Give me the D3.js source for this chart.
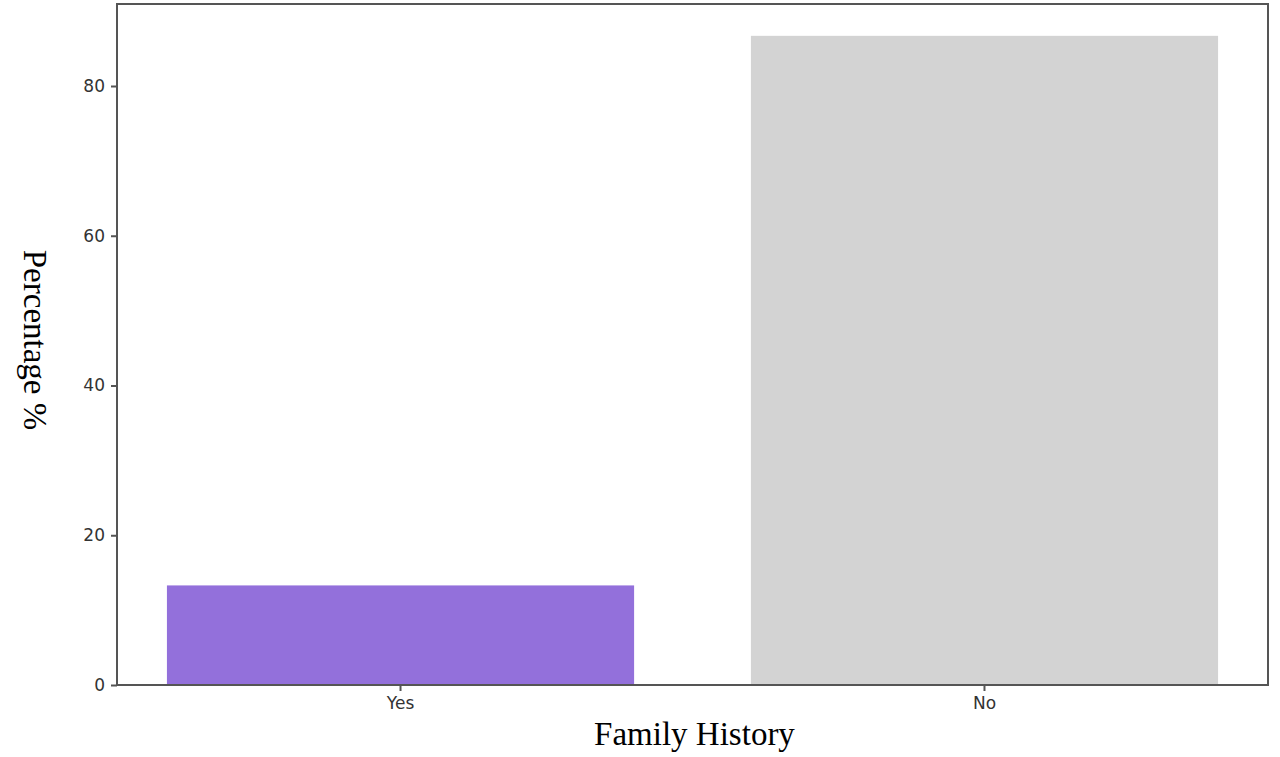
<!DOCTYPE html>
<html><head><meta charset="utf-8">
<script src="https://cdn.jsdelivr.net/npm/d3@7"></script>
<style>body{margin:0;background:#fff}</style></head>
<body><svg id="c" width="1280" height="757"></svg>
<script>
const categories = ["Yes", "No"];
const values = [13.3, 86.7];
const colors = ["#9370DB", "#D3D3D3"];
const yTicks = [0, 20, 40, 60, 80];

const svg = d3.select("#c");
const L = 117, R = 1268, T = 4, B = 685;
const y = d3.scaleLinear().domain([0, 80]).range([B, 86]);
const x = d3.scaleBand().domain(categories).range([L, R]).paddingInner(0.2).paddingOuter(0.0855);

svg.selectAll("rect.bar").data(categories).enter().append("rect")
  .attr("x", d => x(d)).attr("width", x.bandwidth())
  .attr("y", (d, i) => y(values[i])).attr("height", (d, i) => B - y(values[i]))
  .attr("fill", (d, i) => colors[i]);

const font = "DejaVu Sans, sans-serif";
const ya = svg.append("g").attr("transform", `translate(${L},0)`)
  .call(d3.axisLeft(y).tickValues(yTicks).tickSize(6).tickPadding(6));
ya.select(".domain").remove();
ya.selectAll("text").attr("font-family", font).attr("font-size", 17).attr("fill", "#333");
ya.selectAll("line").attr("stroke", "#555").attr("stroke-width", 2);

const xa = svg.append("g").attr("transform", `translate(0,${B})`)
  .call(d3.axisBottom(x).tickSize(6).tickPadding(6));
xa.select(".domain").remove();
xa.selectAll("text").attr("font-family", font).attr("font-size", 17).attr("fill", "#333");
xa.selectAll("line").attr("stroke", "#555").attr("stroke-width", 2);

svg.append("rect").attr("x", L).attr("y", T).attr("width", R - L).attr("height", B - T)
  .attr("fill", "none").attr("stroke", "#555").attr("stroke-width", 2);

svg.append("text").attr("x", (L + R) / 2 + 2).attr("y", 745).attr("text-anchor", "middle")
  .attr("font-family", "Liberation Serif, serif").attr("font-size", 33).text("Family History");
svg.append("text").attr("transform", "translate(24,340) rotate(90)").attr("text-anchor", "middle")
  .attr("font-family", "Liberation Serif, serif").attr("font-size", 33).text("Percentage %");
</script></body></html>
